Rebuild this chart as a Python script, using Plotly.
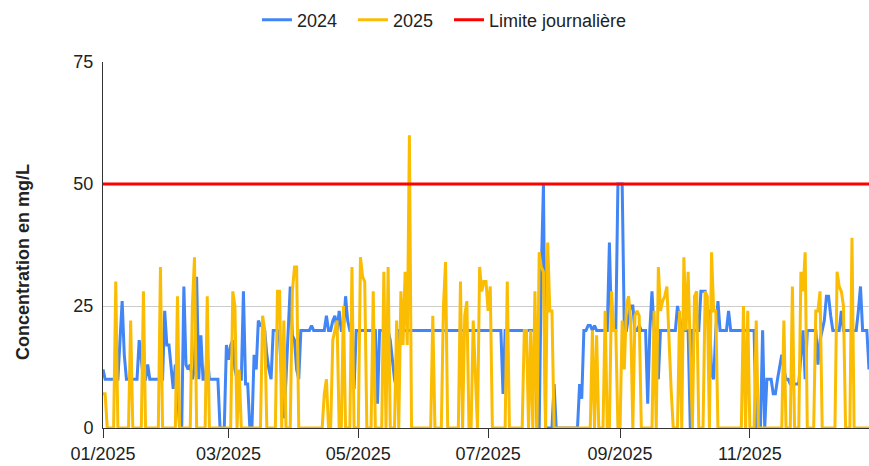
import plotly.graph_objects as go
import pandas as pd

# Daily dates (1 Jan 2025 -> 27 Dec 2025)
dates = pd.date_range("2025-01-01", periods=361, freq="D")

# 2024 series (mg/L), one line per month
series_2024 = (
    [12, 10, 10, 10, 10, 10, 10, 10, 18, 26, 15, 10, 10, 10, 10, 10, 10, 18, 14, 10, 10, 13, 10, 10, 10, 10, 10, 10, 10, 24, 17]
    + [17, 12, 8, 13, 8, 0, 0, 29, 13, 12, 13, 10, 12, 31, 10, 19, 10, 10, 15, 10, 10, 10, 10, 10, 0, 0, 0, 17]
    + [14, 17, 18, 12, 10, 10, 10, 28, 9, 9, 0, 0, 15, 12, 22, 21, 21, 20, 15, 12, 10, 20, 20, 20, 18, 10, 2, 10, 20, 29, 19]
    + [18, 12, 10, 20, 20, 20, 20, 20, 21, 20, 20, 20, 20, 20, 20, 23, 20, 20, 22, 23, 20, 24, 20, 20, 27, 22, 20, 20, 8, 20]
    + [20, 20, 20, 20, 20, 20, 20, 20, 20, 5, 20, 20, 20, 20, 20, 18, 14, 10, 8, 20, 20, 20, 20, 20, 20, 20, 20, 20, 20, 20, 20]
    + [20, 20, 20, 20, 20, 20, 20, 20, 20, 20, 20, 20, 20, 20, 20, 20, 20, 20, 20, 20, 20, 20, 20, 20, 20, 20, 20, 20, 20, 20]
    + [20, 20, 20, 20, 20, 20, 20, 7, 20, 20, 20, 20, 20, 20, 20, 20, 20, 20, 20, 20, 20, 20, 20, 0, 0, 32, 50, 0, 0, 0, 0]
    + [9, 0, 0, 0, 0, 0, 0, 0, 0, 0, 0, 0, 9, 6, 20, 20, 21, 21, 20, 21, 20, 20, 20, 20, 20, 20, 38, 20, 20, 20, 50]
    + [50, 50, 20, 20, 23, 25, 25, 20, 20, 21, 20, 20, 20, 5, 20, 28, 20, 20, 10, 20, 20, 20, 20, 20, 20, 20, 20, 25, 22, 20]
    + [20, 20, 20, 0, 20, 20, 20, 20, 28, 28, 28, 24, 24, 11, 10, 20, 26, 20, 20, 20, 20, 24, 20, 20, 20, 20, 20, 20, 20, 20, 20]
    + [20, 20, 20, 0, 0, 0, 20, 0, 10, 10, 10, 7, 7, 10, 13, 15, 12, 10, 10, 9, 9, 9, 9, 9, 15, 20, 10, 20, 20, 20]
    + [20, 20, 13, 18, 20, 22, 27, 27, 23, 20, 20, 20, 20, 24, 20, 20, 20, 20, 20, 20, 20, 24, 29, 20, 20, 20, 12]
)

# 2025 series (mg/L), one line per month
series_2025 = (
    [7, 7, 0, 0, 0, 0, 30, 0, 0, 0, 0, 0, 0, 22, 0, 0, 0, 0, 0, 28, 0, 0, 0, 0, 0, 0, 0, 33, 0, 0, 0]
    + [0, 0, 0, 0, 27, 0, 0, 0, 0, 0, 0, 25, 35, 0, 0, 0, 0, 0, 27, 0, 0, 0, 0, 0, 0, 0, 0, 0]
    + [0, 0, 28, 25, 0, 12, 0, 0, 0, 0, 0, 0, 0, 0, 0, 0, 23, 20, 0, 0, 0, 0, 0, 28, 28, 0, 22, 0, 0, 0, 28]
    + [33, 33, 0, 0, 0, 0, 0, 0, 0, 0, 0, 0, 0, 0, 7, 10, 0, 0, 18, 20, 22, 0, 0, 25, 0, 0, 0, 33, 0, 0]
    + [0, 35, 31, 30, 0, 0, 0, 28, 0, 0, 0, 0, 32, 0, 33, 0, 0, 0, 22, 0, 28, 17, 32, 17, 60, 0, 0, 0, 0, 0, 0]
    + [0, 0, 0, 0, 23, 0, 0, 0, 0, 25, 34, 0, 0, 0, 0, 0, 0, 30, 0, 23, 26, 0, 0, 22, 12, 0, 33, 28, 30, 30]
    + [24, 29, 0, 0, 0, 0, 0, 0, 0, 30, 0, 0, 0, 0, 0, 0, 0, 20, 20, 0, 20, 0, 28, 0, 36, 33, 32, 0, 38, 24, 24]
    + [0, 0, 0, 0, 0, 0, 0, 0, 0, 0, 0, 0, 0, 0, 0, 0, 0, 0, 20, 0, 19, 0, 0, 0, 24, 0, 0, 28, 20, 20, 0]
    + [0, 22, 12, 25, 27, 22, 0, 23, 24, 23, 0, 0, 0, 0, 0, 0, 24, 0, 33, 24, 26, 27, 29, 18, 8, 0, 0, 0, 24, 0]
    + [35, 20, 32, 14, 0, 27, 28, 0, 0, 0, 28, 27, 0, 36, 24, 24, 0, 0, 0, 0, 0, 0, 0, 0, 0, 0, 0, 0, 25, 0, 24]
    + [0, 0, 0, 22, 0, 0, 0, 0, 0, 0, 0, 0, 0, 0, 0, 0, 22, 0, 0, 0, 29, 0, 0, 0, 32, 28, 36, 0, 0, 0]
    + [0, 24, 24, 28, 0, 0, 0, 0, 0, 0, 0, 32, 29, 28, 25, 0, 0, 0, 39, 0, 0, 0, 0, 0, 0, 0, 0]
)

limit_value = 50  # Limite journalière (mg/L)
y_ticks = [0, 25, 50, 75]

assert len(series_2024) == len(dates) and len(series_2025) == len(dates)

FONT = "Arial, 'Liberation Sans', sans-serif"

fig = go.Figure()
fig.add_trace(go.Scatter(x=dates, y=series_2024, name="2024", mode="lines",
                         legendwidth=51,
                         line=dict(color="#4285F4", width=3)))
fig.add_trace(go.Scatter(x=dates, y=series_2025, name="2025", mode="lines",
                         legendwidth=51,
                         line=dict(color="#FBBC04", width=3)))
fig.add_trace(go.Scatter(x=[dates[0], dates[-1]], y=[limit_value, limit_value],
                         name="Limite journalière", mode="lines",
                         line=dict(color="#FF0000", width=3)))

fig.update_layout(
    width=869, height=466,
    margin=dict(l=103, r=0, t=62, b=38, pad=0),
    paper_bgcolor="white", plot_bgcolor="white",
    font=dict(family=FONT, size=18, color="#222222"),
    showlegend=True,
    legend=dict(orientation="h", xref="container", yref="container",
                x=0.2957, xanchor="left", y=0.957, yanchor="middle",
                font=dict(size=18, color="#222222"), itemwidth=30,
                bgcolor="rgba(0,0,0,0)"),
    xaxis=dict(type="date", range=[dates[0], dates[-1]],
               tickformat="%m/%Y", dtick="M2", tick0="2025-01-01",
               ticks="outside", ticklen=9, tickcolor="#333333",
               showline=True, linecolor="#333333", linewidth=1,
               showgrid=False, zeroline=False,
               tickfont=dict(size=18, color="#222222")),
    yaxis=dict(range=[0, 75], tickvals=y_ticks,
               showgrid=True, gridcolor="#cccccc", gridwidth=1,
               showline=True, linecolor="#333333", linewidth=1,
               zeroline=False, ticks="", ticklabelstandoff=5,
               tickfont=dict(size=18, color="#222222")),
    annotations=[dict(text="<b>Concentration en mg/L</b>", textangle=-90,
                      xref="paper", yref="paper", x=-0.1044, y=0.4536,
                      xanchor="center", yanchor="middle", showarrow=False,
                      font=dict(size=18, color="#222222", family=FONT))],
)

fig.write_html("out.html", config={"displayModeBar": False},
               post_script="document.body.style.margin='0px';")
